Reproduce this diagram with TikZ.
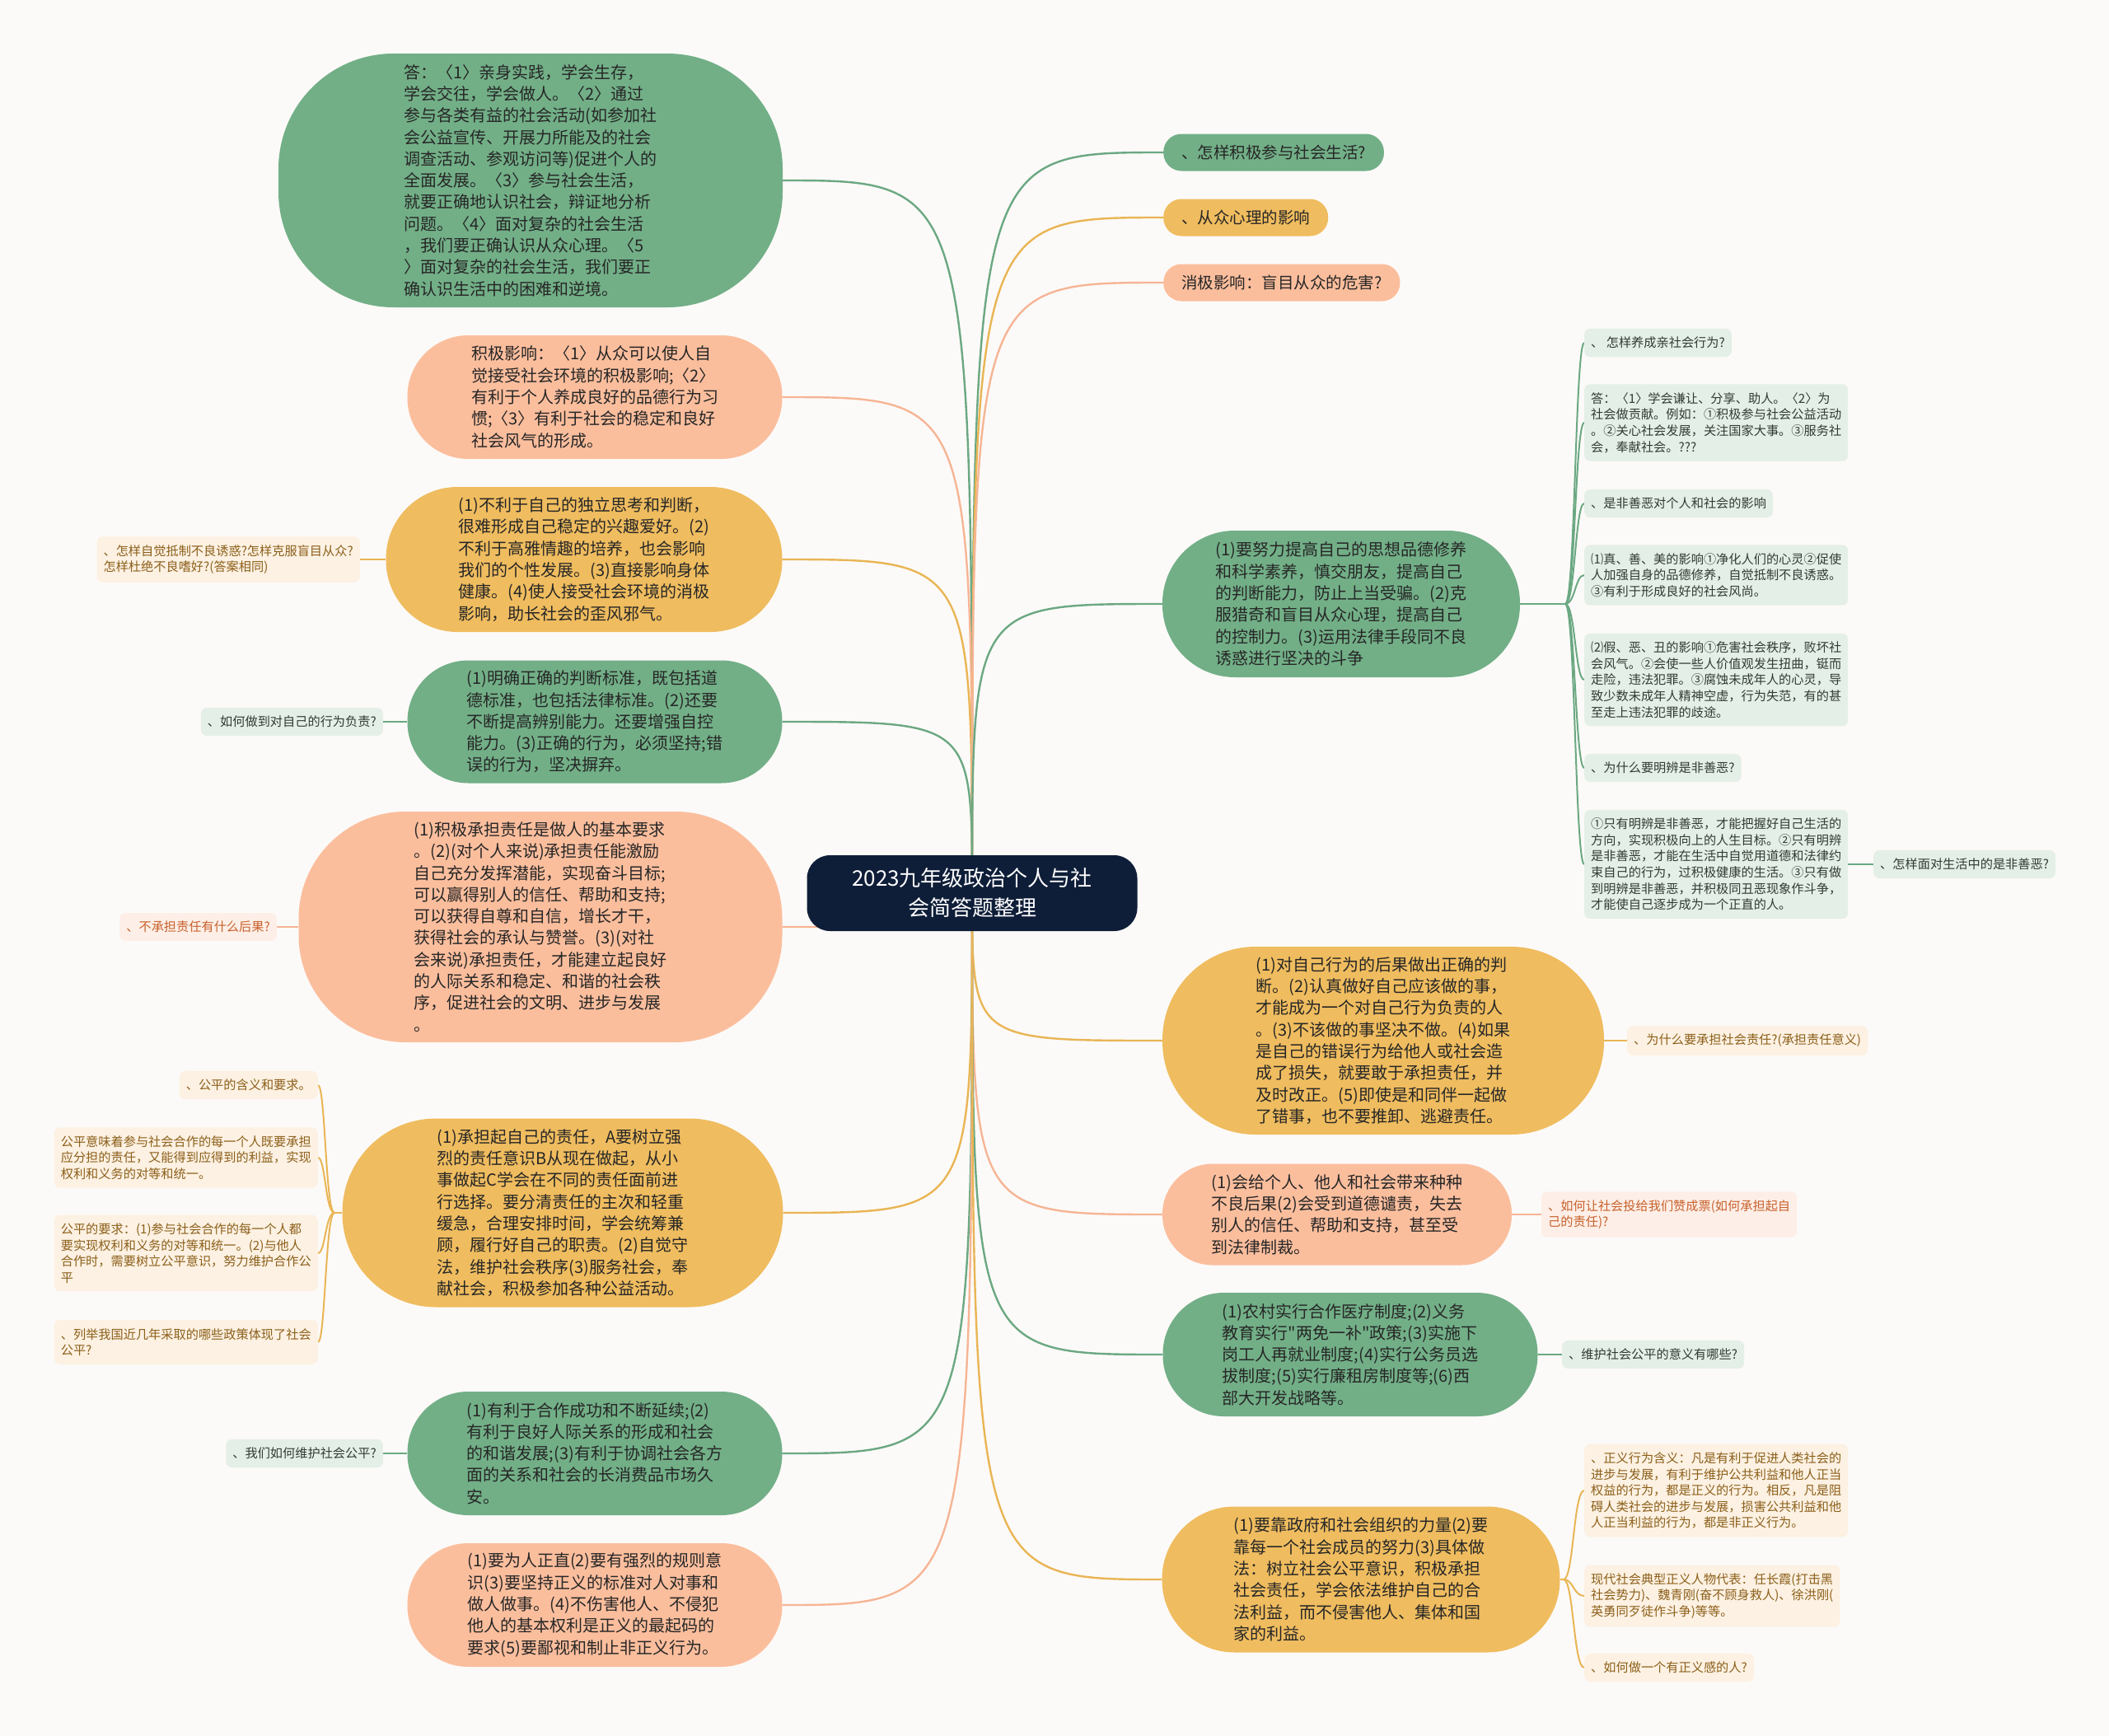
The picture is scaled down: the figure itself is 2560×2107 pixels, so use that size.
\documentclass[tikz,border=0pt]{standalone}
\usepackage{fontspec}
\setmainfont{Noto Sans CJK SC}
\newfontfamily\nomapfont{Noto Sans CJK SC}
\definecolor{bgc}{HTML}{FCFAF8}
\definecolor{gfill}{HTML}{72AF87}
\definecolor{yfill}{HTML}{EFBC5F}
\definecolor{sfill}{HTML}{FBBE9D}
\definecolor{glinec}{HTML}{6BA882}
\definecolor{ylinec}{HTML}{E9B555}
\definecolor{slinec}{HTML}{F6B595}
\definecolor{ctrc}{HTML}{0F1E38}
\definecolor{gleaff}{HTML}{E4EFE7}
\definecolor{yleaff}{HTML}{FCF1E2}
\definecolor{sleaff}{HTML}{FDEFE7}
\definecolor{gleaft}{HTML}{333A35}
\definecolor{yleaft}{HTML}{8C5F1A}
\definecolor{sleaft}{HTML}{C8602C}
\definecolor{maint}{HTML}{262626}
\pgfdeclarelayer{bglayer}
\pgfdeclarelayer{edgelayer}
\pgfsetlayers{bglayer,edgelayer,main}
\newcommand{\mainfs}{\fontsize{20}{26.3}\selectfont}
\newcommand{\leaffs}{\fontsize{15.2}{19.6}\selectfont}
\newcommand{\pillfs}{\fontsize{19.5}{24}\selectfont}
\newcommand{\ctrfs}{\fontsize{26}{36}\selectfont}
\newcommand{\sq}{{\nomapfont"}}
\tikzset{
  bignode/.style={inner sep=0pt, align=left, text=maint, font=\mainfs},
  pill/.style={inner xsep=22pt, inner ysep=0pt, minimum height=45pt, rounded corners=22pt, text=maint, font=\pillfs, anchor=west},
  leaf/.style={inner xsep=8pt, inner ysep=10pt, rounded corners=7pt, align=left, font=\leaffs},
  gleaf/.style={leaf, fill=gleaff, text=gleaft},
  yleaf/.style={leaf, fill=yleaff, text=yleaft},
  sleaf/.style={leaf, fill=sleaff, text=sleaft},
  gcon/.style={draw=glinec, line width=2.4pt},
  ycon/.style={draw=ylinec, line width=2.4pt},
  scon/.style={draw=slinec, line width=2.4pt},
  gsub/.style={draw=glinec, line width=2pt},
  ysub/.style={draw=ylinec, line width=2pt},
  ssub/.style={draw=slinec, line width=2pt},
}
\begin{document}
\begin{tikzpicture}[x=1pt,y=-1pt]
\begin{pgfonlayer}{bglayer}
\fill[bgc] (0,0) rectangle (2560,2107);
\end{pgfonlayer}
\useasboundingbox (0,0) rectangle (2560,2107);

% center
\node[fill=ctrc, text=white, rounded corners=28pt, minimum width=401pt, minimum height=92pt, align=center, font=\ctrfs, inner sep=0pt] (ctr) at (1180,1084) {2023九年级政治个人与社\\会简答题整理};

% left main nodes
\node[bignode, fill=gfill, minimum width=612pt, minimum height=308pt, rounded corners=140pt] (L1) at (644,219) {答：〈1〉亲身实践，学会生存，\\学会交往，学会做人。〈2〉通过\\参与各类有益的社会活动(如参加社\\会公益宣传、开展力所能及的社会\\调查活动、参观访问等)促进个人的\\全面发展。〈3〉参与社会生活，\\就要正确地认识社会，辩证地分析\\问题。〈4〉面对复杂的社会生活\\，我们要正确认识从众心理。〈5\\〉面对复杂的社会生活，我们要正\\确认识生活中的困难和逆境。};
\node[bignode, fill=sfill, minimum width=455pt, minimum height=150pt, rounded corners=74pt] (L2) at (722,482) {积极影响：〈1〉从众可以使人自\\觉接受社会环境的积极影响;〈2〉\\有利于个人养成良好的品德行为习\\惯;〈3〉有利于社会的稳定和良好\\社会风气的形成。};
\node[bignode, fill=yfill, minimum width=481pt, minimum height=176pt, rounded corners=87pt] (L3) at (709,679) {(1)不利于自己的独立思考和判断，\\很难形成自己稳定的兴趣爱好。(2)\\不利于高雅情趣的培养，也会影响\\我们的个性发展。(3)直接影响身体\\健康。(4)使人接受社会环境的消极\\影响，助长社会的歪风邪气。};
\node[bignode, fill=gfill, minimum width=455pt, minimum height=149pt, rounded corners=74pt] (L4) at (722,876) {(1)明确正确的判断标准，既包括道\\德标准，也包括法律标准。(2)还要\\不断提高辨别能力。还要增强自控\\能力。(3)正确的行为，必须坚持;错\\误的行为，坚决摒弃。};
\node[bignode, fill=sfill, minimum width=587pt, minimum height=280pt, rounded corners=130pt] (L5) at (656,1125) {(1)积极承担责任是做人的基本要求\\。(2)(对个人来说)承担责任能激励\\自己充分发挥潜能，实现奋斗目标;\\可以赢得别人的信任、帮助和支持;\\可以获得自尊和自信，增长才干，\\获得社会的承认与赞誉。(3)(对社\\会来说)承担责任，才能建立起良好\\的人际关系和稳定、和谐的社会秩\\序，促进社会的文明、进步与发展\\。};
\node[bignode, fill=yfill, minimum width=535pt, minimum height=229pt, rounded corners=114pt] (L6) at (683,1472) {(1)承担起自己的责任，A要树立强\\烈的责任意识B从现在做起，从小\\事做起C学会在不同的责任面前进\\行选择。要分清责任的主次和轻重\\缓急，合理安排时间，学会统筹兼\\顾，履行好自己的职责。(2)自觉守\\法，维护社会秩序(3)服务社会，奉\\献社会，积极参加各种公益活动。};
\node[bignode, fill=gfill, minimum width=455pt, minimum height=150pt, rounded corners=74pt] (L7) at (722,1764) {(1)有利于合作成功和不断延续;(2)\\有利于良好人际关系的形成和社会\\的和谐发展;(3)有利于协调社会各方\\面的关系和社会的长消费品市场久\\安。};
\node[bignode, fill=sfill, minimum width=455pt, minimum height=150pt, rounded corners=74pt] (L8) at (722,1948) {(1)要为人正直(2)要有强烈的规则意\\识(3)要坚持正义的标准对人对事和\\做人做事。(4)不伤害他人、不侵犯\\他人的基本权利是正义的最起码的\\要求(5)要鄙视和制止非正义行为。};

% left leaves
\node[yleaf, anchor=east] (L3a) at (437,679) {、怎样自觉抵制不良诱惑?怎样克服盲目从众?\\怎样杜绝不良嗜好?(答案相同)};
\node[gleaf, anchor=east] (L4a) at (465,876) {、如何做到对自己的行为负责?};
\node[sleaf, anchor=east] (L5a) at (336,1125) {、不承担责任有什么后果?};
\node[yleaf, anchor=east] (L6a) at (386,1317) {、公平的含义和要求。};
\node[yleaf, anchor=east] (L6b) at (386,1405) {公平意味着参与社会合作的每一个人既要承担\\应分担的责任，又能得到应得到的利益，实现\\权利和义务的对等和统一。};
\node[yleaf, anchor=east] (L6c) at (386,1521) {公平的要求：(1)参与社会合作的每一个人都\\要实现权利和义务的对等和统一。(2)与他人\\合作时，需要树立公平意识，努力维护合作公\\平};
\node[yleaf, anchor=east] (L6d) at (386,1629) {、列举我国近几年采取的哪些政策体现了社会\\公平?};
\node[gleaf, anchor=east] (L7a) at (465,1764) {、我们如何维护社会公平?};

% right pills
\node[pill, fill=gfill] (R1) at (1412,185) {、怎样积极参与社会生活?};
\node[pill, fill=yfill] (R2) at (1412,264) {、从众心理的影响};
\node[pill, fill=sfill] (R3) at (1412,343) {消极影响：盲目从众的危害?};

% right main nodes
\node[bignode, fill=gfill, minimum width=434pt, minimum height=178pt, rounded corners=88pt] (R4) at (1628,733) {(1)要努力提高自己的思想品德修养\\和科学素养，慎交朋友，提高自己\\的判断能力，防止上当受骗。(2)克\\服猎奇和盲目从众心理，提高自己\\的控制力。(3)运用法律手段同不良\\诱惑进行坚决的斗争};
\node[bignode, fill=yfill, minimum width=536pt, minimum height=228pt, rounded corners=113pt] (R5) at (1679,1263) {(1)对自己行为的后果做出正确的判\\断。(2)认真做好自己应该做的事，\\才能成为一个对自己行为负责的人\\。(3)不该做的事坚决不做。(4)如果\\是自己的错误行为给他人或社会造\\成了损失，就要敢于承担责任，并\\及时改正。(5)即使是和同伴一起做\\了错事，也不要推卸、逃避责任。};
\node[bignode, fill=sfill, minimum width=424pt, minimum height=123pt, rounded corners=61pt] (R6) at (1623,1474) {(1)会给个人、他人和社会带来种种\\不良后果(2)会受到道德谴责，失去\\别人的信任、帮助和支持，甚至受\\到法律制裁。};
\node[bignode, fill=gfill, minimum width=455pt, minimum height=150pt, rounded corners=74pt] (R7) at (1639,1644) {(1)农村实行合作医疗制度;(2)义务\\教育实行\sq 两免一补\sq 政策;(3)实施下\\岗工人再就业制度;(4)实行公务员选\\拔制度;(5)实行廉租房制度等;(6)西\\部大开发战略等。};
\node[bignode, fill=yfill, minimum width=483pt, minimum height=177pt, rounded corners=88pt] (R8) at (1652,1917) {(1)要靠政府和社会组织的力量(2)要\\靠每一个社会成员的努力(3)具体做\\法：树立社会公平意识，积极承担\\社会责任，学会依法维护自己的合\\法利益，而不侵害他人、集体和国\\家的利益。};

% right leaves
\node[gleaf, anchor=west] (R4a) at (1923,416) {、 怎样养成亲社会行为?};
\node[gleaf, anchor=west] (R4b) at (1923,513) {答：〈1〉学会谦让、分享、助人。〈2〉为\\社会做贡献。例如：①积极参与社会公益活动\\。②关心社会发展，关注国家大事。③服务社\\会，奉献社会。???};
\node[gleaf, anchor=west] (R4c) at (1923,611) {、是非善恶对个人和社会的影响};
\node[gleaf, anchor=west] (R4d) at (1923,698) {⑴真、善、美的影响①净化人们的心灵②促使\\人加强自身的品德修养，自觉抵制不良诱惑。\\③有利于形成良好的社会风尚。};
\node[gleaf, anchor=west] (R4e) at (1923,825) {⑵假、恶、丑的影响①危害社会秩序，败坏社\\会风气。②会使一些人价值观发生扭曲，铤而\\走险，违法犯罪。③腐蚀未成年人的心灵，导\\致少数未成年人精神空虚，行为失范，有的甚\\至走上违法犯罪的歧途。};
\node[gleaf, anchor=west] (R4f) at (1923,932) {、为什么要明辨是非善恶?};
\node[gleaf, anchor=west] (R4g) at (1923,1049) {①只有明辨是非善恶，才能把握好自己生活的\\方向，实现积极向上的人生目标。②只有明辨\\是非善恶，才能在生活中自觉用道德和法律约\\束自己的行为，过积极健康的生活。③只有做\\到明辨是非善恶，并积极同丑恶现象作斗争，\\才能使自己逐步成为一个正直的人。};
\node[gleaf, anchor=west] (R4g1) at (2274,1049) {、怎样面对生活中的是非善恶?};
\node[yleaf, anchor=west] (R5a) at (1975,1263) {、为什么要承担社会责任?(承担责任意义)};
\node[sleaf, anchor=west] (R6a) at (1871,1474) {、如何让社会投给我们赞成票(如何承担起自\\己的责任)?};
\node[gleaf, anchor=west] (R7a) at (1896,1644) {、维护社会公平的意义有哪些?};
\node[yleaf, anchor=west] (R8a) at (1923,1809) {、正义行为含义：凡是有利于促进人类社会的\\进步与发展，有利于维护公共利益和他人正当\\权益的行为，都是正义的行为。相反，凡是阻\\碍人类社会的进步与发展，损害公共利益和他\\人正当利益的行为，都是非正义行为。};
\node[yleaf, anchor=west] (R8b) at (1923,1937) {现代社会典型正义人物代表：任长霞(打击黑\\社会势力)、魏青刚(奋不顾身救人)、徐洪刚(\\英勇同歹徒作斗争)等等。};
\node[yleaf, anchor=west] (R8c) at (1923,2024) {、如何做一个有正义感的人?};

% bracket helper coordinates
\coordinate (J6) at (406,1472);
\coordinate (K6) at (395,1472);
\coordinate (J4) at (1900,733);
\coordinate (K4) at (1912,733);
\coordinate (J8) at (1898,1917);
\coordinate (K8) at (1910,1917);

\begin{pgfonlayer}{edgelayer}
% center to left
\draw[gcon] (ctr.center) .. controls (ctr.center |- L1.east) .. (L1.east);
\draw[scon] (ctr.center) .. controls (ctr.center |- L2.east) .. (L2.east);
\draw[ycon] (ctr.center) .. controls (ctr.center |- L3.east) .. (L3.east);
\draw[gcon] (ctr.center) .. controls (ctr.center |- L4.east) .. (L4.east);
\draw[scon] (ctr.center) .. controls (ctr.center |- L5.east) .. (L5.east);
\draw[ycon] (ctr.center) .. controls (ctr.center |- L6.east) .. (L6.east);
\draw[gcon] (ctr.center) .. controls (ctr.center |- L7.east) .. (L7.east);
\draw[scon] (ctr.center) .. controls (ctr.center |- L8.east) .. (L8.east);
% center to right
\draw[gcon] (ctr.center) .. controls (ctr.center |- R1.west) .. (R1.west);
\draw[ycon] (ctr.center) .. controls (ctr.center |- R2.west) .. (R2.west);
\draw[scon] (ctr.center) .. controls (ctr.center |- R3.west) .. (R3.west);
\draw[gcon] (ctr.center) .. controls (ctr.center |- R4.west) .. (R4.west);
\draw[ycon] (ctr.center) .. controls (ctr.center |- R5.west) .. (R5.west);
\draw[scon] (ctr.center) .. controls (ctr.center |- R6.west) .. (R6.west);
\draw[gcon] (ctr.center) .. controls (ctr.center |- R7.west) .. (R7.west);
\draw[ycon] (ctr.center) .. controls (ctr.center |- R8.west) .. (R8.west);
% single leaves
\draw[ysub] (L3.west) -- (L3a.east);
\draw[gsub] (L4.west) -- (L4a.east);
\draw[ssub] (L5.west) -- (L5a.east);
\draw[gsub] (L7.west) -- (L7a.east);
\draw[gsub] (R4g.east) -- (R4g1.west);
\draw[ysub] (R5.east) -- (R5a.west);
\draw[ssub] (R6.east) -- (R6a.west);
\draw[gsub] (R7.east) -- (R7a.west);
% brackets
\draw[ysub] (L6.west) -- (J6);
\foreach \n in {L6a,L6b,L6c,L6d}
  \draw[ysub] (J6) .. controls (K6) and (K6 |- \n.east) .. (\n.east);
\draw[gsub] (R4.east) -- (J4);
\foreach \n in {R4a,R4b,R4c,R4d,R4e,R4f,R4g}
  \draw[gsub] (J4) .. controls (K4) and (K4 |- \n.west) .. (\n.west);
\draw[ysub] (R8.east) -- (J8);
\foreach \n in {R8a,R8b,R8c}
  \draw[ysub] (J8) .. controls (K8) and (K8 |- \n.west) .. (\n.west);
\end{pgfonlayer}
\end{tikzpicture}
\end{document}
